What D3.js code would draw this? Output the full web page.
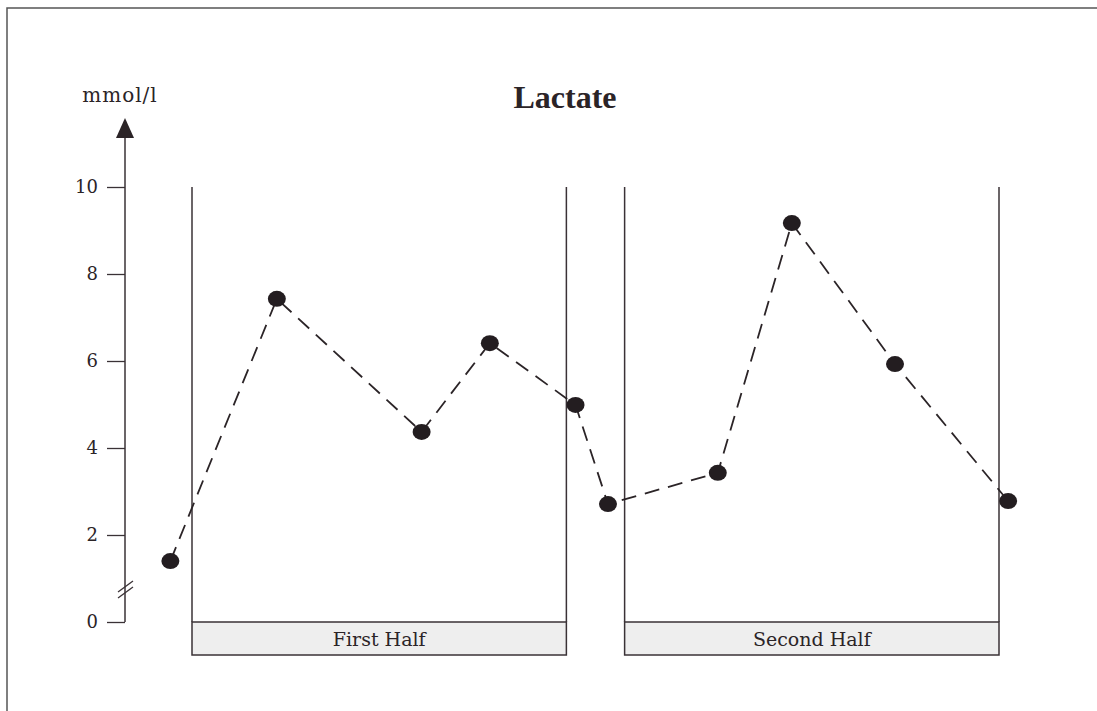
<!DOCTYPE html>
<html>
<head>
<meta charset="utf-8">
<script src="https://cdn.jsdelivr.net/npm/d3@7"></script>
<style>
  body { margin: 0; background: white; }
  text { font-family: "DejaVu Serif", "Liberation Serif", serif; fill: #2b2427; }
</style>
</head>
<body>
<div id="vis"></div>
<script>
// lactate samples: time in minutes of play, value in mmol/l
let times = [-2.6, 10.2, 27.6, 35.8, 46.1, 50, 63.2, 72.1, 84.5, 98.1];
let lactate = [1.4, 7.43, 4.37, 6.41, 4.99, 2.71, 3.43, 9.17, 5.93, 2.78];
let halves = [
  { label: 'First Half', start: 0, end: 45 },
  { label: 'Second Half', start: 52, end: 97 }
];
let yTicks = [0, 2, 4, 6, 8, 10];

let W = 1097, H = 711;
let ink = '#3a3236';

let svg = d3.select('#vis')
  .append('svg')
  .attr('width', W)
  .attr('height', H);

let x = d3.scaleLinear().domain([0, 97]).range([192, 999]);
let y = d3.scaleLinear().domain([0, 10]).range([622, 187]);

// page frame (top and left edges only)
svg.append('path')
  .attr('d', 'M7,711 V8 H1097')
  .attr('fill', 'none')
  .attr('stroke', '#555')
  .attr('stroke-width', 1.5);

// title + unit
svg.append('text')
  .attr('x', 565).attr('y', 108)
  .attr('text-anchor', 'middle')
  .style('font-family', '"Liberation Serif", serif')
  .style('font-size', '32px')
  .style('font-weight', 'bold')
  .text('Lactate');

svg.append('text')
  .attr('x', 120).attr('y', 102)
  .attr('text-anchor', 'middle')
  .attr('font-size', 20)
  .attr('letter-spacing', 1)
  .text('mmol/l');

// half-time boxes
let box = svg.selectAll('.half')
  .data(halves)
  .enter().append('g')
  .attr('class', 'half');

box.append('rect')
  .attr('x', d => x(d.start))
  .attr('y', y(0))
  .attr('width', d => x(d.end) - x(d.start))
  .attr('height', 33)
  .attr('fill', '#eeeeee')
  .attr('stroke', ink)
  .attr('stroke-width', 1.5);

box.append('line')
  .attr('x1', d => x(d.start)).attr('x2', d => x(d.start))
  .attr('y1', y(10)).attr('y2', y(0))
  .attr('stroke', ink).attr('stroke-width', 1.5);

box.append('line')
  .attr('x1', d => x(d.end)).attr('x2', d => x(d.end))
  .attr('y1', y(10)).attr('y2', y(0))
  .attr('stroke', ink).attr('stroke-width', 1.5);

box.append('text')
  .attr('x', d => (x(d.start) + x(d.end)) / 2)
  .attr('y', y(0) + 24)
  .attr('text-anchor', 'middle')
  .attr('font-size', 19)
  .text(d => d.label);

// y axis
let axisX = 125;
let yAxis = svg.append('g')
  .attr('transform', 'translate(' + axisX + ',0)')
  .call(d3.axisLeft(y).tickValues(yTicks).tickSize(18).tickSizeOuter(0).tickPadding(9));

yAxis.select('.domain').remove();
yAxis.selectAll('.tick line').attr('stroke', ink).attr('stroke-width', 1.3);
yAxis.selectAll('.tick text')
  .attr('font-size', 18);

svg.append('line')
  .attr('x1', axisX).attr('x2', axisX)
  .attr('y1', y(0)).attr('y2', 136)
  .attr('stroke', ink).attr('stroke-width', 1.5);

svg.append('path')
  .attr('d', d3.line()([[axisX, 118], [axisX - 9, 138], [axisX + 9, 138]]) + 'Z')
  .attr('fill', '#2b2427');

// axis break marks
[0, 6].forEach(off => {
  svg.append('line')
    .attr('x1', axisX - 7).attr('y1', 598 - off)
    .attr('x2', axisX + 8).attr('y2', 587 - off)
    .attr('stroke', ink).attr('stroke-width', 1.3);
});

// dashed series line
let pts = times.map((t, i) => [x(t), y(lactate[i])]);

svg.append('path')
  .attr('d', d3.line()(pts))
  .attr('fill', 'none')
  .attr('stroke', '#2b2427')
  .attr('stroke-width', 1.8)
  .attr('stroke-dasharray', '15,9');

svg.selectAll('.dot')
  .data(pts)
  .enter().append('ellipse')
  .attr('class', 'dot')
  .attr('cx', d => d[0])
  .attr('cy', d => d[1])
  .attr('rx', 9)
  .attr('ry', 8)
  .attr('fill', '#231d20');
</script>
</body>
</html>
